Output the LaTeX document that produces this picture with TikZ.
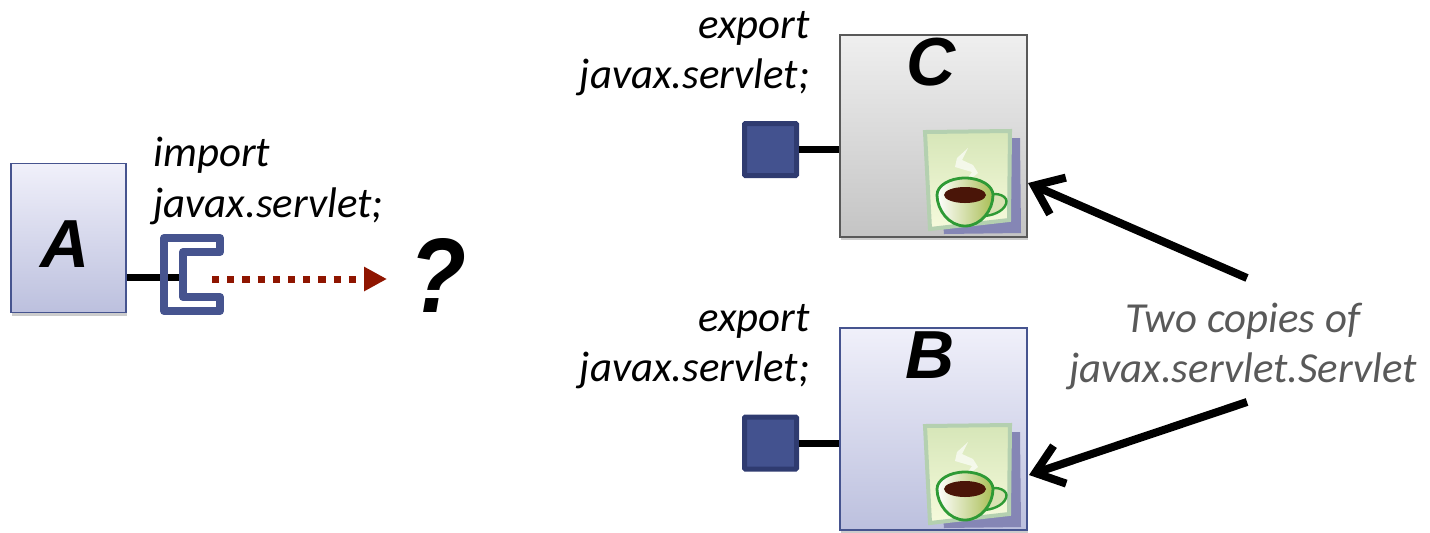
\documentclass[tikz,border=0pt]{standalone}
\usepackage{fontspec}
\setmainfont{Carlito}
\newfontfamily\lettfont{Liberation Sans}
\usetikzlibrary{arrows.meta,shadows}

\definecolor{bundleblue}{HTML}{46548F}
\definecolor{portblue}{HTML}{43528F}
\definecolor{portedge}{HTML}{2F3B70}
\definecolor{arrowred}{HTML}{8F1500}
\definecolor{notegray}{HTML}{595959}
\definecolor{bluetop}{HTML}{F0F0FA}
\definecolor{bluebot}{HTML}{BCC0DE}
\definecolor{graytop}{HTML}{EFEFEF}
\definecolor{graybot}{HTML}{C4C4C4}
\definecolor{docback}{HTML}{8586B5}
\definecolor{docedge}{HTML}{B4D0B0}
\definecolor{doctop}{HTML}{D6E6B8}
\definecolor{docbot}{HTML}{F6FADC}
\definecolor{cupgreen}{HTML}{2E9A35}
\definecolor{cupside}{HTML}{A9BE55}
\definecolor{coffee}{HTML}{4A1508}

\tikzset{
  softshadow/.style={drop shadow={shadow xshift=0.5pt,shadow yshift=-1.5pt,opacity=.2,fill=black}},
  bundlebox/.style={rectangle,draw=bundleblue,line width=.8pt,top color=bluetop,bottom color=bluebot,softshadow,inner sep=0pt},
  graybox/.style={bundlebox,draw=black!65,top color=graytop,bottom color=graybot},
  pkgtext/.style={font=\fontsize{21.4}{25}\selectfont\itshape,inner sep=0pt},
  lett/.style={font=\fontsize{34}{34}\selectfont\lettfont\bfseries\itshape,inner sep=0pt,anchor=base},
  portbox/.style={rectangle,rounded corners=.5pt,fill=portblue,draw=portedge,line width=2.5pt,inner sep=0pt,minimum size=26pt},
  wire/.style={line width=3.5pt,black},
  pointer/.style={line width=4pt,black,-{Straight Barb[length=13pt,width=20pt,line width=4pt]}},
  pics/coffeedoc/.style={code={
    \fill[docback] (85,6) -- (95,6) -- (96,101) -- (19,102) -- (18,90) -- cycle;
    \draw[top color=doctop,bottom color=docbot,draw=docedge,line width=2pt] (0,0) -- (85,-1) -- (84,88) -- (5,97) -- cycle;
    \fill[white,opacity=.65] (43,16) -- (32,26) -- (30,35) -- (47,40) -- (38,53) -- (53,41) -- (48,33) -- (37,28) -- cycle;
    \draw[cupgreen,line width=1.2pt,fill=cupside!45!white] (64,63) .. controls (72,60) and (84,64) .. (81,72) .. controls (78,80) and (66,84) .. (58,84);
    \draw[cupgreen,line width=1.4pt,left color=white,right color=cupside] (12,63) arc[start angle=180,end angle=0,x radius=14pt,y radius=8.5pt] .. controls (68,78) and (56,94) .. (40,94) .. controls (24,94) and (12,78) .. (12,63) -- cycle;
    \fill[coffee] (40,63) ellipse[x radius=10.5pt,y radius=4pt];
  }}
}

\begin{document}
\begin{tikzpicture}[x=.5pt,y=-.5pt]
\useasboundingbox (0,0) rectangle (1430,532);

% left bundle
\node[bundlebox,minimum width=57.5pt,minimum height=74.5pt] (boxA) at (68.5,238) {};
\node[lett] (lblA) at (65,267) {A};
\coordinate (wireA) at (183,277);
\draw[wire] (boxA.east |- wireA) -- (wireA);
\draw[bundleblue,line width=4pt,line join=round]
  (220,238) -- (164,238) -- (164,311) -- (220,311) -- (220,297) -- (183,297) -- (183,252) -- (220,252) -- cycle;
\node[pkgtext,anchor=base west] (importA) at (153,166) {import};
\node[pkgtext,anchor=base west] (javaxA) at (153,217) {javax.servlet;};
\coordinate (dotsA) at (212,279);
\node[lett,font=\fontsize{53}{53}\selectfont\lettfont\bfseries\itshape] (quest) at (438,312) {\scalebox{.88}[1]{?}};
\coordinate (dotsB) at (387,279);
\draw[arrowred,line width=3.5pt,dash pattern=on 3.6pt off 4pt,-{Triangle[length=11.5pt,width=11.5pt]}] (dotsA) -- (dotsB);

% upper bundle
\node[graybox,minimum width=93.5pt,minimum height=101pt] (boxC) at (933.5,136) {};
\node[lett] (lblC) at (931,85) {C};
\node[portbox] (portC) at (770.5,149.5) {};
\draw[wire] (portC.east) -- (portC.east -| boxC.west);
\pic at (925,132) {coffeedoc};
\node[pkgtext,anchor=base east] (expC) at (810,38) {export};
\node[pkgtext,anchor=base east] (javaxC) at (810,88) {javax.servlet;};

% lower bundle
\node[bundlebox,minimum width=93.5pt,minimum height=101pt] (boxB) at (933.5,429) {};
\node[lett] (lblB) at (930,378) {B};
\node[portbox] (portB) at (770.5,443) {};
\draw[wire] (portB.east) -- (portB.east -| boxB.west);
\pic at (925,426) {coffeedoc};
\node[pkgtext,anchor=base east] (expB) at (810,331) {export};
\node[pkgtext,anchor=base east] (javaxB) at (810,381) {javax.servlet;};

% note with the two arrows
\node[pkgtext,text=notegray,anchor=base] (noteA) at (1243,332) {Two copies of};
\node[pkgtext,text=notegray,anchor=base] (noteB) at (1243,382) {javax.servlet.Servlet};
\coordinate (tailC) at (1247,278);
\coordinate (tailB) at (1247,402);
\coordinate (hitC) at (1028,183);
\coordinate (hitB) at (1029,475);
\draw[pointer] (tailC) -- (hitC);
\draw[pointer] (tailB) -- (hitB);
\end{tikzpicture}
\end{document}
